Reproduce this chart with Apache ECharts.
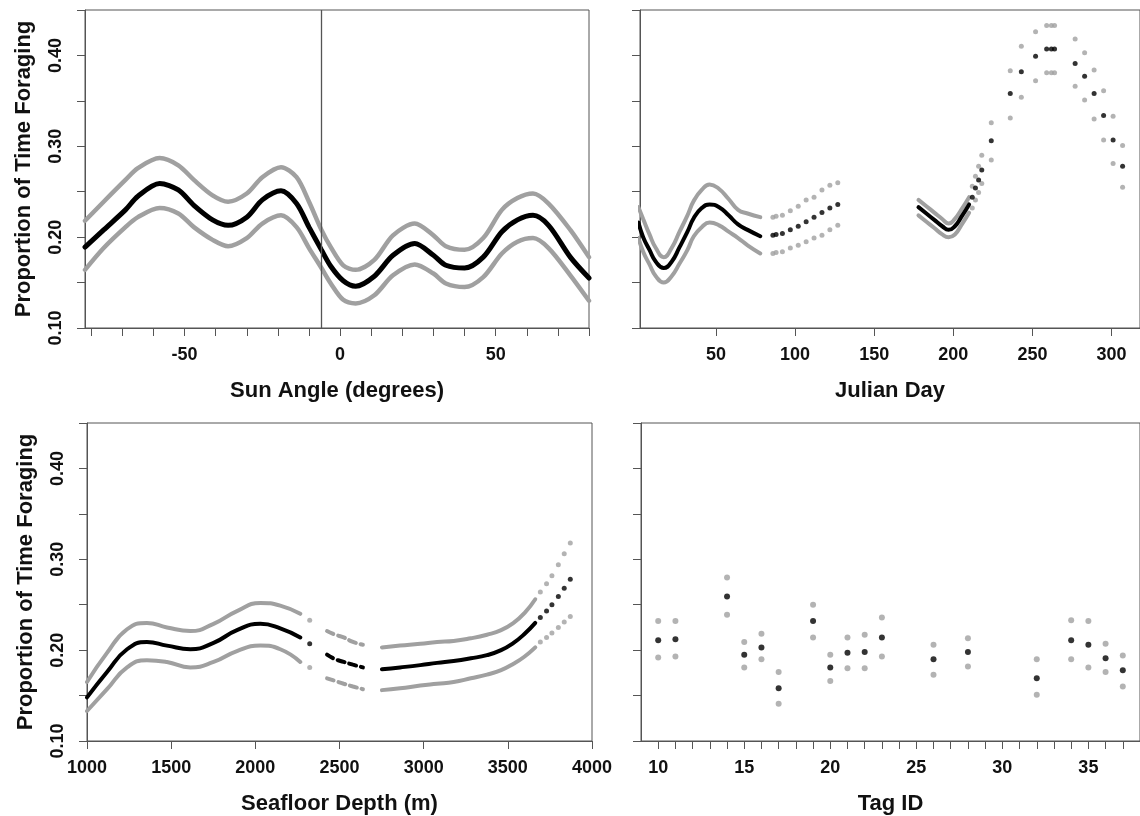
<!DOCTYPE html>
<html>
<head>
<meta charset="utf-8">
<script src="https://cdn.jsdelivr.net/npm/echarts@6/dist/echarts.min.js"></script>
<style>
  html, body { margin: 0; padding: 0; background: #fff; }
  #chart { width: 1140px; height: 816px; }
</style>
</head>
<body>
<div id="chart"></div>
<script>
// Sun angle panel: fitted proportion and its upper / lower band
const sunAngle = [-82, -76, -69, -65, -58, -52, -47, -41, -36, -30, -25, -19, -14, -10, -6, -3, 1, 5, 11, 17, 24, 30, 34, 40, 46, 52, 57, 62, 67, 74, 80];
const sunFit   = [0.189, 0.208, 0.230, 0.245, 0.259, 0.252, 0.235, 0.219, 0.213, 0.222, 0.241, 0.251, 0.237, 0.211, 0.186, 0.168, 0.152, 0.146, 0.157, 0.180, 0.193, 0.180, 0.169, 0.166, 0.178, 0.206, 0.219, 0.224, 0.213, 0.178, 0.155];
const sunUpper = [0.218, 0.239, 0.263, 0.276, 0.287, 0.279, 0.263, 0.246, 0.239, 0.248, 0.266, 0.277, 0.266, 0.239, 0.208, 0.189, 0.169, 0.164, 0.175, 0.202, 0.215, 0.202, 0.190, 0.186, 0.199, 0.230, 0.243, 0.248, 0.237, 0.208, 0.178];
const sunLower = [0.164, 0.188, 0.211, 0.222, 0.232, 0.226, 0.211, 0.197, 0.190, 0.199, 0.215, 0.224, 0.211, 0.188, 0.166, 0.149, 0.131, 0.127, 0.136, 0.158, 0.170, 0.160, 0.149, 0.145, 0.156, 0.182, 0.195, 0.199, 0.188, 0.158, 0.130];
const sunMarker = -6;

// Julian day panel, four stretches of days
const dayA      = [1, 4, 8, 12, 17, 22, 27, 32, 36, 41, 46, 52, 58, 64, 70, 78];
const dayAFit   = [0.216, 0.200, 0.186, 0.173, 0.166, 0.173, 0.189, 0.206, 0.221, 0.232, 0.236, 0.233, 0.224, 0.214, 0.208, 0.201];
const dayAUpper = [0.233, 0.220, 0.203, 0.188, 0.178, 0.188, 0.206, 0.224, 0.240, 0.252, 0.258, 0.253, 0.242, 0.230, 0.226, 0.222];
const dayALower = [0.199, 0.184, 0.170, 0.157, 0.150, 0.157, 0.171, 0.186, 0.201, 0.211, 0.216, 0.213, 0.206, 0.199, 0.191, 0.182];

const dayB      = [86, 88, 92, 97, 102, 107, 112, 117, 122, 127];
const dayBFit   = [0.202, 0.203, 0.204, 0.208, 0.212, 0.217, 0.222, 0.227, 0.232, 0.236];
const dayBUpper = [0.222, 0.223, 0.224, 0.229, 0.234, 0.241, 0.244, 0.252, 0.257, 0.260];
const dayBLower = [0.182, 0.183, 0.184, 0.188, 0.191, 0.195, 0.199, 0.202, 0.208, 0.213];

const dayC      = [178, 183, 188, 193, 197, 201, 205, 210];
const dayCFit   = [0.233, 0.226, 0.219, 0.212, 0.208, 0.212, 0.222, 0.236];
const dayCUpper = [0.241, 0.234, 0.227, 0.220, 0.215, 0.220, 0.230, 0.244];
const dayCLower = [0.224, 0.217, 0.210, 0.203, 0.200, 0.203, 0.213, 0.227];

const dayD      = [212, 214, 216, 218, 224, 236, 243, 252, 259, 262, 264, 277, 283, 289, 295, 301, 307];
const dayDFit   = [0.244, 0.254, 0.263, 0.274, 0.306, 0.358, 0.382, 0.399, 0.407, 0.407, 0.407, 0.391, 0.377, 0.358, 0.334, 0.307, 0.278];
const dayDUpper = [0.256, 0.267, 0.278, 0.290, 0.326, 0.383, 0.410, 0.426, 0.433, 0.433, 0.433, 0.418, 0.403, 0.384, 0.361, 0.333, 0.301];
const dayDLower = [0.232, 0.241, 0.249, 0.259, 0.285, 0.331, 0.354, 0.372, 0.381, 0.381, 0.381, 0.366, 0.351, 0.330, 0.307, 0.281, 0.255];

// Seafloor depth panel
const depth1      = [1000, 1119, 1238, 1356, 1475, 1614, 1752, 1891, 2030, 2148, 2267];
const depth1Fit   = [0.148, 0.176, 0.201, 0.209, 0.205, 0.201, 0.208, 0.222, 0.229, 0.224, 0.214];
const depth1Upper = [0.165, 0.197, 0.223, 0.230, 0.225, 0.221, 0.229, 0.243, 0.252, 0.249, 0.240];
const depth1Lower = [0.133, 0.157, 0.181, 0.189, 0.187, 0.181, 0.187, 0.199, 0.205, 0.201, 0.187];

const depthLone      = [2323];
const depthLoneFit   = [0.207];
const depthLoneUpper = [0.233];
const depthLoneLower = [0.181];

const depth2      = [2426, 2475, 2525, 2580, 2639];
const depth2Fit   = [0.195, 0.190, 0.187, 0.184, 0.181];
const depth2Upper = [0.221, 0.217, 0.214, 0.209, 0.206];
const depth2Lower = [0.169, 0.166, 0.163, 0.160, 0.157];

const depth3      = [2752, 2860, 2980, 3080, 3178, 3280, 3376, 3460, 3534, 3600, 3663];
const depth3Fit   = [0.179, 0.181, 0.1835, 0.186, 0.188, 0.191, 0.1945, 0.200, 0.208, 0.218, 0.230];
const depth3Upper = [0.203, 0.205, 0.207, 0.209, 0.210, 0.213, 0.217, 0.222, 0.230, 0.241, 0.256];
const depth3Lower = [0.156, 0.158, 0.161, 0.163, 0.165, 0.169, 0.173, 0.178, 0.185, 0.193, 0.203];

const depth4      = [3693, 3730, 3762, 3800, 3835, 3871];
const depth4Fit   = [0.236, 0.243, 0.250, 0.259, 0.268, 0.278];
const depth4Upper = [0.264, 0.273, 0.282, 0.294, 0.306, 0.318];
const depth4Lower = [0.209, 0.214, 0.219, 0.225, 0.231, 0.237];

// Tag ID panel
const tagIds   = [10, 11, 14, 15, 16, 17, 19, 20, 21, 22, 23, 26, 28, 32, 34, 35, 36, 37];
const tagFit   = [0.211, 0.212, 0.259, 0.195, 0.203, 0.158, 0.232, 0.181, 0.197, 0.198, 0.214, 0.190, 0.198, 0.169, 0.211, 0.206, 0.191, 0.178];
const tagUpper = [0.232, 0.232, 0.280, 0.209, 0.218, 0.176, 0.250, 0.195, 0.214, 0.217, 0.236, 0.206, 0.213, 0.190, 0.233, 0.232, 0.207, 0.194];
const tagLower = [0.192, 0.193, 0.239, 0.181, 0.190, 0.141, 0.214, 0.166, 0.180, 0.180, 0.193, 0.173, 0.182, 0.151, 0.190, 0.181, 0.176, 0.160];

// tick labels
const yTicks = [0.10, 0.20, 0.30, 0.40];
const sunTicks = [-80, -70, -60, -50, -40, -30, -20, -10, 0, 10, 20, 30, 40, 50, 60, 70, 80];
const sunLabels = [-50, 0, 50];
const dayTicks = [50, 100, 150, 200, 250, 300];
const depthTicks = [1000, 1500, 2000, 2500, 3000, 3500, 4000];
const tagTicks = [10, 11, 12, 13, 14, 15, 16, 17, 18, 19, 20, 21, 22, 23, 24, 25, 26, 27, 28, 29, 30, 31, 32, 33, 34, 35, 36, 37];
const tagLabels = [10, 15, 20, 25, 30, 35];

const FONT = 'Liberation Sans, Arial, Helvetica, sans-serif';
const AXIS = '#555';
const GREY = '#a0a0a0';

function pair(xs, ys) {
    return xs.map(function (x, i) { return [x, ys[i]]; });
}

function yAxisFor(idx, withLabels) {
    return {
        type: 'value',
        gridIndex: idx,
        min: 0.10,
        max: 0.45,
        interval: 0.05,
        name: withLabels ? 'Proportion of Time Foraging' : '',
        nameLocation: 'middle',
        nameGap: 50,
        nameTextStyle: { fontFamily: FONT, fontWeight: 'bold', fontSize: 22, color: '#111' },
        axisLine: { show: true, onZero: false, lineStyle: { color: AXIS, width: 1 } },
        axisTick: { show: true, length: 8, lineStyle: { color: AXIS } },
        axisLabel: {
            show: withLabels,
            rotate: 90,
            margin: 20,
            customValues: yTicks,
            formatter: function (v) { return v.toFixed(2); },
            fontFamily: FONT, fontWeight: 'bold', fontSize: 18, color: '#111'
        },
        splitLine: { show: false }
    };
}

function xAxisFor(idx, name, min, max, ticks, labels) {
    return {
        type: 'value',
        gridIndex: idx,
        min: min,
        max: max,
        name: name,
        nameLocation: 'middle',
        nameGap: 52,
        nameTextStyle: { fontFamily: FONT, fontWeight: 'bold', fontSize: 22, color: '#111' },
        axisLine: { show: true, onZero: false, lineStyle: { color: AXIS, width: 1 } },
        axisTick: { show: true, length: 8, customValues: ticks, lineStyle: { color: AXIS } },
        axisLabel: {
            customValues: labels,
            margin: 18,
            formatter: function (v) { return String(v); },
            fontFamily: FONT, fontWeight: 'bold', fontSize: 18, color: '#111'
        },
        splitLine: { show: false }
    };
}

function band(idx, xs, ys, color, width, dash, smooth) {
    return {
        type: 'line',
        xAxisIndex: idx,
        yAxisIndex: idx,
        data: pair(xs, ys),
        smooth: smooth || 0.5,
        showSymbol: false,
        symbol: 'none',
        silent: true,
        lineStyle: { color: color, width: width, type: dash || 'solid', cap: 'round' },
        z: color === '#000' ? 4 : 3
    };
}

function dots(idx, xs, ys, color, size) {
    return {
        type: 'scatter',
        xAxisIndex: idx,
        yAxisIndex: idx,
        data: pair(xs, ys),
        symbolSize: size,
        silent: true,
        itemStyle: { color: color },
        z: color === '#000' ? 4 : 3
    };
}

let chart = echarts.init(document.getElementById('chart'), null, { renderer: 'canvas' });

let series = [
    // sun angle
    band(0, sunAngle, sunUpper, GREY, 4.5, null, 0.3),
    band(0, sunAngle, sunLower, GREY, 4.5, null, 0.3),
    Object.assign(band(0, sunAngle, sunFit, '#000', 5, null, 0.3), {
        markLine: {
            silent: true,
            symbol: ['none', 'none'],
            label: { show: false },
            lineStyle: { color: AXIS, width: 1.3, type: 'solid' },
            data: [{ xAxis: sunMarker }]
        }
    }),
    // julian day
    band(1, dayA, dayAUpper, GREY, 4),
    band(1, dayA, dayALower, GREY, 4),
    band(1, dayA, dayAFit, '#000', 4),
    dots(1, dayB, dayBUpper, GREY, 5),
    dots(1, dayB, dayBLower, GREY, 5),
    dots(1, dayB, dayBFit, '#000', 5),
    band(1, dayC, dayCUpper, GREY, 4),
    band(1, dayC, dayCLower, GREY, 4),
    band(1, dayC, dayCFit, '#000', 4),
    dots(1, dayD, dayDUpper, GREY, 5),
    dots(1, dayD, dayDLower, GREY, 5),
    dots(1, dayD, dayDFit, '#000', 5),
    // seafloor depth
    band(2, depth1, depth1Upper, GREY, 4),
    band(2, depth1, depth1Lower, GREY, 4),
    band(2, depth1, depth1Fit, '#000', 4),
    dots(2, depthLone, depthLoneUpper, GREY, 5),
    dots(2, depthLone, depthLoneLower, GREY, 5),
    dots(2, depthLone, depthLoneFit, '#000', 5),
    band(2, depth2, depth2Upper, GREY, 4, [7, 5]),
    band(2, depth2, depth2Lower, GREY, 4, [7, 5]),
    band(2, depth2, depth2Fit, '#000', 4, [7, 5]),
    band(2, depth3, depth3Upper, GREY, 4),
    band(2, depth3, depth3Lower, GREY, 4),
    band(2, depth3, depth3Fit, '#000', 4),
    dots(2, depth4, depth4Upper, GREY, 5),
    dots(2, depth4, depth4Lower, GREY, 5),
    dots(2, depth4, depth4Fit, '#000', 5),
    // tag id
    dots(3, tagIds, tagUpper, GREY, 6),
    dots(3, tagIds, tagLower, GREY, 6),
    dots(3, tagIds, tagFit, '#000', 6)
];

let frame = { show: true, borderColor: AXIS, borderWidth: 1, backgroundColor: 'transparent' };

let option = {
    animation: false,
    backgroundColor: '#fff',
    grid: [
        Object.assign({ left: 85, top: 10, width: 504, height: 318 }, frame),
        Object.assign({ left: 640, top: 10, width: 505, height: 318 }, frame),
        Object.assign({ left: 87, top: 423, width: 505, height: 319 }, frame),
        Object.assign({ left: 641, top: 423, width: 505, height: 319 }, frame)
    ],
    xAxis: [
        xAxisFor(0, 'Sun Angle (degrees)', -82, 80, sunTicks, sunLabels),
        xAxisFor(1, 'Julian Day', 2, 318, dayTicks, dayTicks),
        xAxisFor(2, 'Seafloor Depth (m)', 1000, 4000, depthTicks, depthTicks),
        xAxisFor(3, 'Tag ID', 9, 38, tagTicks, tagLabels)
    ],
    yAxis: [
        yAxisFor(0, true),
        yAxisFor(1, false),
        yAxisFor(2, true),
        yAxisFor(3, false)
    ],
    series: series
};

option && chart.setOption(option);
</script>
</body>
</html>
